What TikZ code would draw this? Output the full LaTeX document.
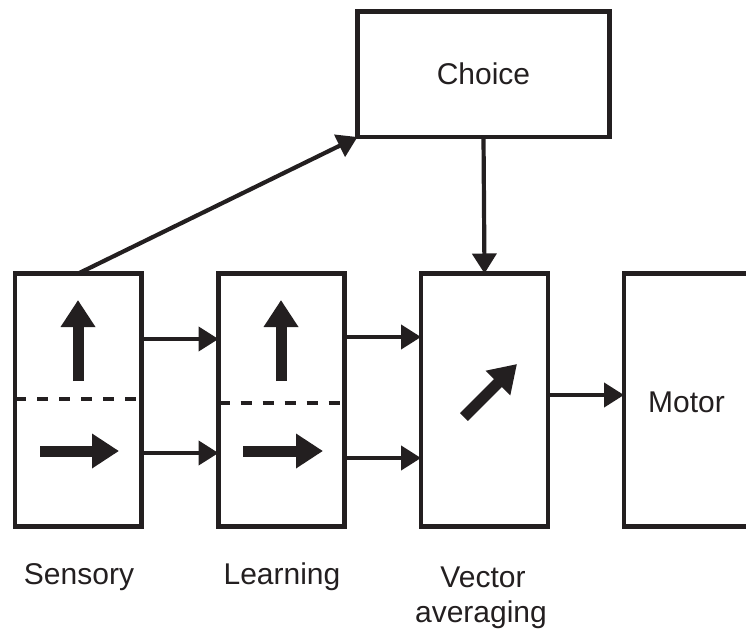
\documentclass[tikz,border=0pt]{standalone}
\usepackage{fontspec}
\setmainfont{Liberation Sans}
\usetikzlibrary{arrows.meta}
\definecolor{ink}{HTML}{231F20}
\tikzset{
  box/.style={draw=ink, line width=4.6pt, rectangle, inner sep=0pt, outer sep=0pt},
  conn/.style={draw=ink, line width=4.2pt, -{Triangle[length=20pt,width=24pt]}},
  fat/.style={draw=ink, line width=11pt, -{Triangle[length=27pt,width=33pt]}},
  dline/.style={draw=ink, line width=3.6pt, dash pattern=on 11pt off 11pt},
  lbl/.style={text=ink, font=\fontsize{30}{36}\selectfont, inner sep=0pt}
}
\begin{document}
\begin{tikzpicture}[x=1pt, y=-1pt]
\clip (0,0) rectangle (746,632);
\useasboundingbox (0,0) rectangle (746,632);
% boxes
\node[box, minimum width=126.5pt, minimum height=253pt] (s) at (78.25,400) {};
\node[box, minimum width=126pt, minimum height=253pt] (l) at (281.5,400) {};
\node[box, minimum width=127pt, minimum height=253pt] (v) at (484.5,400) {};
\node[box, minimum width=200pt, minimum height=253pt] (m) at (724,400) {};
\node[box, minimum width=252pt, minimum height=125.5pt] (c) at (483.5,74.25) {};
% texts
\node[lbl] (ct) at (c.center) {Choice};
\node[lbl, anchor=base west] (mt) at (648,412) {Motor};
\node[lbl, anchor=base] (st) at (79,584) {Sensory};
\node[lbl, anchor=base] (lt) at (282,584) {Learning};
\node[lbl, anchor=base] (vt) at (483,587) {Vector};
\node[lbl, anchor=base] (at) at (481,622) {averaging};
% dashed separators
\draw[dline] (s.west |- 0,399) -- (s.east |- 0,399);
\draw[dline] (l.west |- 0,403) -- (l.east |- 0,403);
% connectors
\draw[conn] (s.north) -- (c.south west);
\draw[conn] (c.south) -- (v.north);
\draw[conn] (s.east |- 0,339) -- (l.west |- 0,339);
\draw[conn] (s.east |- 0,453) -- (l.west |- 0,453);
\draw[conn] (l.east |- 0,337) -- (v.west |- 0,337);
\draw[conn] (l.east |- 0,458) -- (v.west |- 0,458);
\draw[conn] (v.east |- 0,395) -- (m.west |- 0,395);
% inner vector arrows
\coordinate (su0) at (78,381); \coordinate (su1) at (78,300);
\coordinate (sr0) at (40,451); \coordinate (sr1) at (119,451);
\coordinate (lu0) at (281,381); \coordinate (lu1) at (281,300);
\coordinate (lr0) at (243,451); \coordinate (lr1) at (323,451);
\coordinate (vd0) at (464,417); \coordinate (vd1) at (517,364);
\draw[fat] (su0) -- (su1);
\draw[fat] (sr0) -- (sr1);
\draw[fat] (lu0) -- (lu1);
\draw[fat] (lr0) -- (lr1);
\draw[fat] (vd0) -- (vd1);
\end{tikzpicture}
\end{document}
